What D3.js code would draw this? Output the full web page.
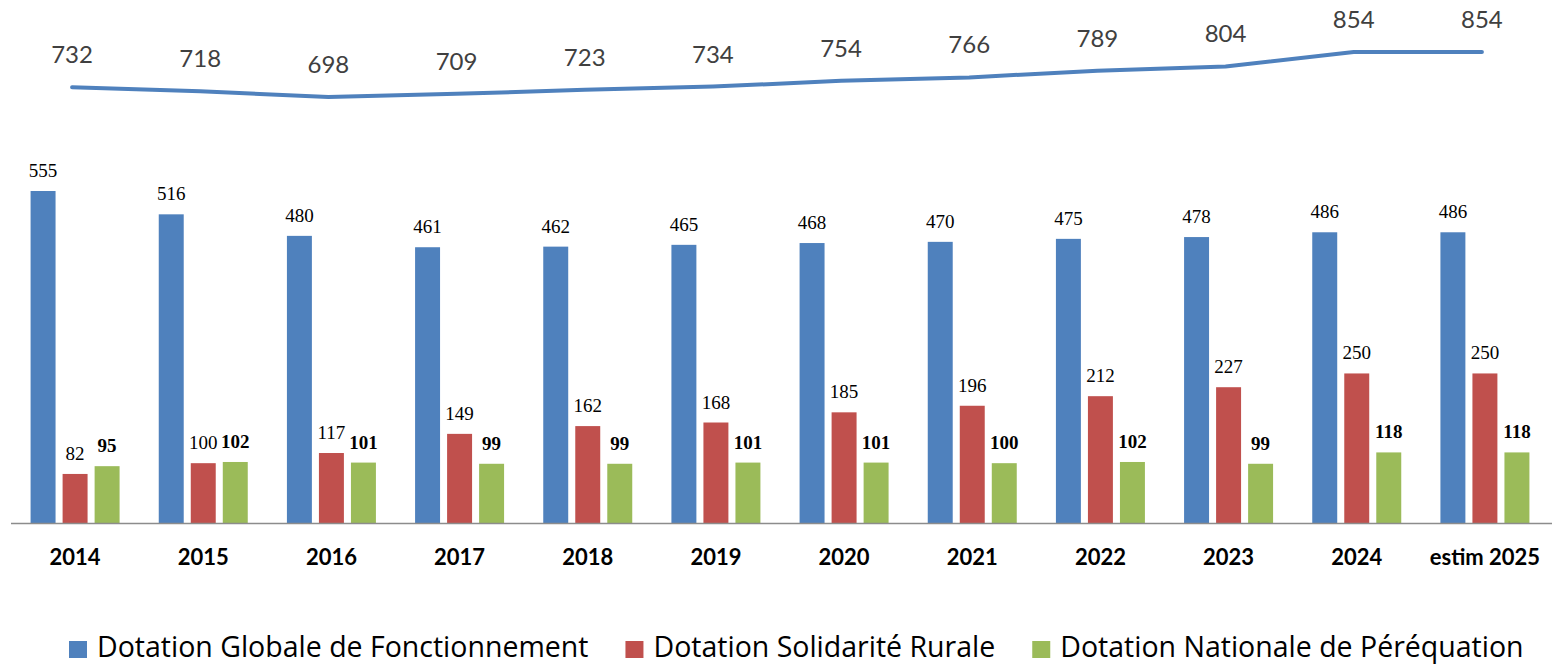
<!DOCTYPE html>
<html>
<head>
<meta charset="utf-8">
<script src="https://cdn.jsdelivr.net/npm/d3@7"></script>
<style>
  body { margin: 0; background: #fff; }
  svg { display: block; }
</style>
</head>
<body>
<div id="chart"></div>
<script>
// Data
var years = ['2014', '2015', '2016', '2017', '2018', '2019', '2020', '2021', '2022', '2023', '2024', 'estim 2025'];
var dgf = [555, 516, 480, 461, 462, 465, 468, 470, 475, 478, 486, 486];
var dsr = [82, 100, 117, 149, 162, 168, 185, 196, 212, 227, 250, 250];
var dnp = [95, 102, 101, 99, 99, 101, 101, 100, 102, 99, 118, 118];
var total = [732, 718, 698, 709, 723, 734, 754, 766, 789, 804, 854, 854];
var seriesNames = ['Dotation Globale de Fonctionnement', 'Dotation Solidarité Rurale', 'Dotation Nationale de Péréquation'];
var colors = ['#4f81bd', '#c0504d', '#9bbb59'];

// Size variables
var width = 1557;
var height = 665;
var baseline = 523;

var svg = d3.select('#chart')
    .append('svg')
    .attr('width', width)
    .attr('height', height);

// Scales
var xScale = d3.scaleBand()
    .domain(years)
    .range([11, 1549]);

var subScale = d3.scaleBand()
    .domain([0, 1, 2])
    .range([xScale.bandwidth() / 2 - 44.5, xScale.bandwidth() / 2 + 44.5])
    .paddingInner(0.22);

var yBar = d3.scaleLinear()
    .domain([0, 555])
    .range([baseline, 191]);

var yLine = d3.scaleLinear()
    .domain([698, 854])
    .range([97, 52]);

// Bars
var barSeries = [dgf, dsr, dnp];
barSeries.forEach(function (values, s) {
    var g = svg.append('g').attr('class', 'series-' + s);
    g.selectAll('rect')
        .data(values)
        .enter()
        .append('rect')
        .attr('x', (d, i) => xScale(years[i]) + subScale(s))
        .attr('y', (d) => yBar(d))
        .attr('width', subScale.bandwidth())
        .attr('height', (d) => baseline - yBar(d))
        .style('fill', colors[s]);

    g.selectAll('text')
        .data(values)
        .enter()
        .append('text')
        .attr('x', (d, i) => xScale(years[i]) + subScale(s) + subScale.bandwidth() / 2)
        .attr('y', (d) => yBar(d) - 14)
        .attr('text-anchor', 'middle')
        .style('font-family', '"Liberation Serif", serif')
        .style('font-size', '19px')
        .style('font-weight', s === 2 ? 'bold' : 'normal')
        .style('fill', '#000')
        .text((d) => d);
});

// x axis line
svg.append('line')
    .attr('x1', 11)
    .attr('x2', 1552)
    .attr('y1', baseline + 0.5)
    .attr('y2', baseline + 0.5)
    .style('stroke', '#8c8c8c')
    .style('stroke-width', 1.5);

// category labels
svg.append('g')
    .selectAll('text')
    .data(years)
    .enter()
    .append('text')
    .attr('x', (d) => xScale(d) + xScale.bandwidth() / 2)
    .attr('y', 565)
    .attr('text-anchor', 'middle')
    .style('font-family', 'Lato, sans-serif')
    .style('font-size', '22px')
    .style('font-weight', 'bold')
    .style('fill', '#000')
    .text((d) => d);

// Total line
var line = d3.line()
    .x((d, i) => xScale(years[i]) + xScale.bandwidth() / 2 - 3)
    .y((d) => yLine(d));

svg.append('path')
    .datum(total)
    .attr('d', line)
    .style('fill', 'none')
    .style('stroke', '#4f81bd')
    .style('stroke-width', 4)
    .style('stroke-linecap', 'round')
    .style('stroke-linejoin', 'round');

svg.append('g')
    .selectAll('text')
    .data(total)
    .enter()
    .append('text')
    .attr('x', (d, i) => xScale(years[i]) + xScale.bandwidth() / 2 - 3)
    .attr('y', (d) => yLine(d) - 24)
    .attr('text-anchor', 'middle')
    .style('font-family', 'Lato, sans-serif')
    .style('font-size', '24px')
    .style('fill', '#404040')
    .text((d) => d);

// legend
var legend = svg.append('g');
var lx = 69;
seriesNames.forEach(function (name, i) {
    legend.append('rect')
        .attr('x', lx)
        .attr('y', 641)
        .attr('width', 18)
        .attr('height', 17)
        .style('fill', colors[i]);
    var t = legend.append('text')
        .attr('x', lx + 28)
        .attr('y', 657)
        .style('font-family', '"Open Sans", sans-serif')
        .style('font-size', '28.5px')
        .style('fill', '#000')
        .text(name);
    lx += 28 + t.node().getComputedTextLength() + 37;
});
</script>
</body>
</html>
